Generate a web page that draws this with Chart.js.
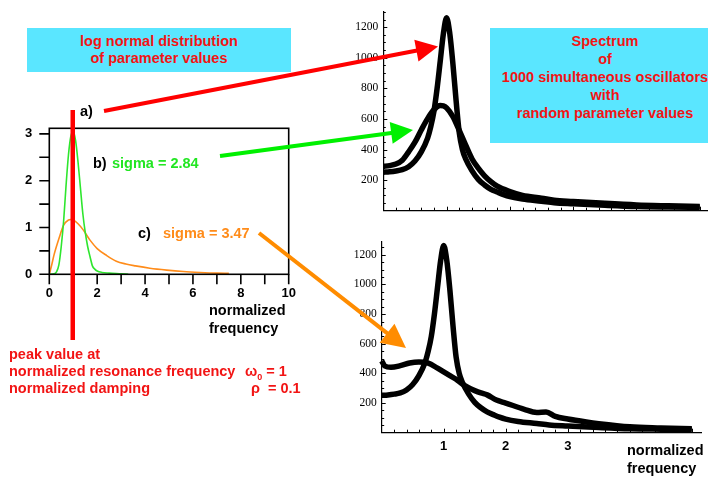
<!DOCTYPE html>
<html><head><meta charset="utf-8">
<script src="https://cdn.jsdelivr.net/npm/chart.js@4.4.0/dist/chart.umd.min.js"></script>
<style>
html,body{margin:0;padding:0;background:#fff;}
body{width:708px;height:478px;overflow:hidden;position:relative;font-family:"Liberation Sans",Arial,sans-serif;font-weight:bold;font-size:14.5px;}
.t{position:absolute;white-space:nowrap;line-height:17px;}
.red{color:#F21414;}
canvas{position:absolute;}
.box{position:absolute;background:#5AE6FF;color:#F21414;text-align:center;white-space:nowrap;}
</style></head><body>
<canvas id="dist" width="330" height="250" style="left:0;top:100px"></canvas>
<canvas id="specTop" width="378" height="230" style="left:330px;top:0"></canvas>
<canvas id="specBot" width="378" height="248" style="left:330px;top:230px"></canvas>

<div class="box" style="left:27px;top:28px;width:264px;height:44px;line-height:17px;box-sizing:border-box;padding-top:5px">log normal distribution<br>of parameter values</div>
<div class="box" style="left:490px;top:28px;width:230px;height:115px;line-height:18px;box-sizing:border-box;padding-top:4px">Spectrum<br>of<br>1000 simultaneous oscillators<br>with<br>random parameter values</div>

<div class="t" style="left:80px;top:103px">a)</div>
<div class="t" style="left:93px;top:155px">b)</div>
<div class="t" style="left:112px;top:155px;color:#22E622">sigma = 2.84</div>
<div class="t" style="left:138px;top:225px">c)</div>
<div class="t" style="left:163px;top:225px;color:#FF8C1A">sigma = 3.47</div>
<div class="t" style="left:209px;top:301px;line-height:18px">normalized<br>frequency</div>
<div class="t" style="left:627px;top:442px;line-height:17.5px">normalized<br>frequency</div>
<div class="t red" style="left:9px;top:346px">peak value at<br>normalized resonance frequency<br>normalized damping</div>
<div class="t red" style="left:245px;top:363px">ω<span style="font-size:9px;position:relative;top:4px">0</span> = 1</div>
<div class="t red" style="left:251px;top:380px">ρ&nbsp; = 0.1</div>

<canvas id="overlay" width="708" height="478" style="left:0;top:0;pointer-events:none"></canvas>

<script>
// ---- log normal distributions (left chart) ----
const distFreqGreen = [0,0.2,0.3,0.4,0.5,0.6,0.7,0.8,0.9,1.0,1.1,1.2,1.3,1.4,1.5,1.6,1.7,1.8,1.9,2.0,2.2,2.5,3.0,3.3];
const densityGreen  = [0,0.01,0.05,0.2,0.6,1.15,1.9,2.55,2.95,3.05,2.85,2.4,1.85,1.3,0.9,0.6,0.38,0.18,0.11,0.07,0.04,0.025,0.01,0.0];
const distFreqOrange = [0,0.1,0.2,0.4,0.6,0.8,0.9,1.0,1.2,1.4,1.7,2.0,2.4,2.8,3.2,3.6,4.2,4.9,5.6,6.3,7.0,7.5];
const densityOrange  = [0,0.2,0.42,0.76,1.05,1.16,1.17,1.16,1.08,0.96,0.73,0.55,0.4,0.28,0.22,0.18,0.13,0.09,0.06,0.04,0.025,0.02];
const distXTicks = [0,2,4,6,8,10];
const distXMinor = [1,3,5,7,9];
const distYTicks = [0,1,2,3];
const distYMinor = [0.5,1.5,2.5];

// ---- spectra (right charts) ----
// a) sharp resonance
const freqA = [0,0.1,0.2,0.3,0.4,0.5,0.6,0.7,0.75,0.8,0.85,0.9,0.95,1.0,1.05,1.1,1.15,1.2,1.25,1.3,1.4,1.5,1.6,1.7,1.8,1.9,2.0,2.2,2.5,2.7,3.0,3.5,4.0,4.5,5.0];
const spectrumA = [252,255,260,268,288,325,385,475,550,650,800,980,1160,1262,1160,960,720,510,400,340,262,205,168,140,122,105,92,76,62,52,45,35,27,24,22];
// b) sigma = 2.84
const freqB = [0,0.1,0.2,0.3,0.4,0.5,0.6,0.7,0.8,0.9,0.95,1.0,1.1,1.2,1.3,1.4,1.5,1.6,1.7,1.8,2.0,2.2,2.5,2.7,3.0,3.5,4.0,4.5,5.0];
const spectrumB = [290,295,305,330,385,448,528,602,660,688,686,672,615,525,430,340,278,228,190,160,125,100,82,68,60,48,38,32,27];
// c) sigma = 3.47
const freqC = [0,0.05,0.15,0.3,0.45,0.6,0.75,0.9,1.0,1.1,1.2,1.3,1.4,1.5,1.6,1.7,1.85,2.0,2.3,2.5,2.65,2.8,3.0,3.3,3.5,4.0,4.5,5.0];
const spectrumC = [485,450,441,452,470,477,470,435,410,385,360,328,303,284,268,255,220,200,158,137,140,110,92,72,61,40,32,26];
const specYLabelStep = 200;
const specXLabels = [1,2,3];

const pts = (xs, ys) => xs.map((x, i) => ({x, y: ys[i]}));
const sansBold = (s) => ({family:'"Liberation Sans", Arial, sans-serif', size:s, weight:'bold'});

// frame + outward ticks for left chart
const framePlugin = {
  id:'frameTicks',
  afterDraw(chart){
    const {ctx, chartArea:a, scales:{x,y}} = chart;
    ctx.save();
    ctx.strokeStyle = '#000'; ctx.lineWidth = 1.6;
    ctx.strokeRect(a.left, a.top, a.right - a.left, a.bottom - a.top);
    ctx.beginPath();
    [...distXTicks, ...distXMinor].forEach(v => { const px = x.getPixelForValue(v); ctx.moveTo(px, a.bottom); ctx.lineTo(px, a.bottom + 10); });
    [...distYTicks, ...distYMinor].forEach(v => { const py = y.getPixelForValue(v); ctx.moveTo(a.left, py); ctx.lineTo(a.left - 10, py); });
    ctx.stroke();
    ctx.restore();
  }
};

// inside minor ticks for spectra
const specTicks = {
  id:'specTicks',
  afterDraw(chart){
    const {ctx, chartArea:a, scales:{x,y}} = chart;
    ctx.save(); ctx.strokeStyle = '#000'; ctx.lineWidth = 1;
    ctx.beginPath();
    for (let k = 1; k * 50 <= y.max; k++) {
      const py = Math.round(y.getPixelForValue(k * 50)) + 0.5;
      const len = (k % 4 === 0) ? 4 : 2.5;
      ctx.moveTo(a.left, py); ctx.lineTo(a.left + len, py);
    }
    for (let k = 1; k * 0.2 <= x.max; k++) {
      const px = Math.round(x.getPixelForValue(k * 0.2)) + 0.5;
      const len = (k % 5 === 0) ? 4 : 3;
      ctx.moveTo(px, a.bottom); ctx.lineTo(px, a.bottom - len);
    }
    ctx.stroke(); ctx.restore();
  }
};

new Chart(document.getElementById('dist'), {
  type:'line',
  data:{datasets:[
    {data:pts(distFreqGreen, densityGreen), borderColor:'#2EE62E', borderWidth:1.6, pointRadius:0, cubicInterpolationMode:'monotone'},
    {data:pts(distFreqOrange, densityOrange), borderColor:'#FF8C1A', borderWidth:1.6, pointRadius:0, cubicInterpolationMode:'monotone'}
  ]},
  options:{
    responsive:false, animation:false, events:[],
    layout:{padding:{left:0, right:41.3, top:28.3, bottom:0}},
    plugins:{legend:{display:false}, tooltip:{enabled:false}},
    scales:{
      x:{type:'linear', min:0, max:10, grid:{display:false, drawTicks:false}, border:{display:false},
         ticks:{stepSize:2, padding:11, color:'#000', font:sansBold(13), maxRotation:0, autoSkip:false, includeBounds:false},
         afterFit(s){ s.height = 75.7; }},
      y:{type:'linear', min:0, max:3.12, grid:{display:false, drawTicks:false}, border:{display:false},
         ticks:{stepSize:1, padding:17, color:'#000', font:sansBold(13), includeBounds:false},
         afterFit(s){ s.width = 49.3; }}
    }
  },
  plugins:[framePlugin]
});

function specChart(id, sets, cfg){
  return new Chart(document.getElementById(id), {
    type:'line',
    data:{datasets:sets.map(d => ({data:d, borderColor:'#000', borderWidth:5.5, pointRadius:0, cubicInterpolationMode:'monotone', clip:false}))},
    options:{
      responsive:false, animation:false, events:[],
      layout:{padding:{left:0, right:cfg.padRight, top:cfg.padTop, bottom:0}},
      plugins:{legend:{display:false}, tooltip:{enabled:false}},
      scales:{
        x:{type:'linear', min:0, max:cfg.xMax, grid:{display:false, drawTicks:false}, border:{display:true, color:'#000', width:1.2},
           ticks:{display:cfg.xLabels, stepSize:1, padding:5.5, color:'#000', font:sansBold(13), maxRotation:0, autoSkip:false, includeBounds:false,
                  callback:(v) => specXLabels.includes(v) ? String(v) : ''},
           afterFit(s){ s.height = cfg.xH; }},
        y:{type:'linear', min:0, max:cfg.yMax, grid:{display:false, drawTicks:false}, border:{display:true, color:'#000', width:1.2},
           ticks:{stepSize:specYLabelStep, padding:5, color:'#000', includeBounds:false,
                  font:{family:'"Liberation Serif", "Times New Roman", serif', size:11.5},
                  callback:(v) => v === 0 ? '' : String(v)},
           afterFit(s){ s.width = cfg.yW; }}
      }
    },
    plugins:[specTicks]
  });
}

specChart('specTop', [pts(freqA, spectrumA), pts(freqB, spectrumB)],
  {padRight:0, padTop:4.2, xMax:5.13, yMax:1300, xH:19.3, yW:53.3, xLabels:false});
specChart('specBot', [pts(freqA, spectrumA), pts(freqC, spectrumC)],
  {padRight:6.3, padTop:5, xMax:5.16, yMax:1287, xH:45.3, yW:51.7, xLabels:true});

// ---- overlay: red marker line and arrows ----
const ov = document.getElementById('overlay').getContext('2d');
ov.fillStyle = '#FF0000';
ov.fillRect(70.5, 110, 4.5, 230);
function arrow(x0, y0, x1, y1, color, head, half){
  const dx = x1 - x0, dy = y1 - y0, L = Math.hypot(dx, dy), ux = dx / L, uy = dy / L;
  const bx = x1 - ux * head, by = y1 - uy * head;
  ov.strokeStyle = color; ov.fillStyle = color; ov.lineWidth = 4; ov.lineCap = 'butt';
  ov.beginPath(); ov.moveTo(x0, y0); ov.lineTo(bx + ux * 2, by + uy * 2); ov.stroke();
  ov.beginPath(); ov.moveTo(x1, y1); ov.lineTo(bx - uy * half, by + ux * half); ov.lineTo(bx + uy * half, by - ux * half); ov.closePath(); ov.fill();
}
arrow(104, 111, 438, 46.5, '#FF0000', 22, 11);
arrow(220, 156, 413, 130, '#00F000', 22, 11);
arrow(259, 233, 406, 348, '#FF8C00', 24, 12);
</script>
</body></html>
